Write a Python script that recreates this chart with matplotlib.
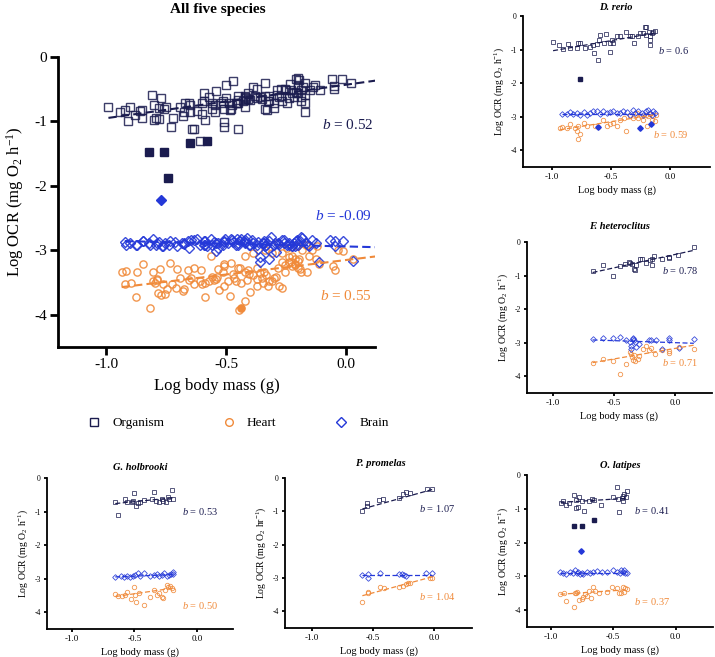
import numpy as np
import matplotlib
matplotlib.use("Agg")
import matplotlib.pyplot as plt
from matplotlib.lines import Line2D

plt.rcParams['font.family'] = ['Liberation Serif', 'DejaVu Serif']
plt.rcParams['mathtext.fontset'] = 'custom'
plt.rcParams['mathtext.rm'] = 'Liberation Serif'
plt.rcParams['mathtext.it'] = 'Liberation Serif:italic'
plt.rcParams['axes.unicode_minus'] = False

# ---------------- data ----------------
# D. rerio
dr_org_x = [-0.99, -0.94, -0.91, -0.86, -0.85, -0.79, -0.78, -0.76, -0.72, -0.68, -0.65, -0.64, -0.62, -0.61,
            -0.60, -0.59, -0.56, -0.54, -0.51, -0.51, -0.49, -0.48, -0.45, -0.42, -0.37, -0.34, -0.32, -0.30,
            -0.27, -0.25, -0.23, -0.21, -0.20, -0.18, -0.17, -0.17, -0.15, -0.14, -0.13, -0.17, -0.20]
dr_org_y = [-0.77, -0.85, -0.99, -0.84, -0.94, -0.94, -0.79, -0.81, -0.94, -0.91, -0.86, -1.11, -0.84, -1.31,
            -0.71, -0.56, -0.81, -0.53, -0.81, -1.08, -0.71, -0.81, -0.61, -0.61, -0.49, -0.61, -0.61, -0.79,
            -0.61, -0.51, -0.51, -0.34, -0.32, -0.47, -0.71, -0.86, -0.51, -0.47, -0.44, -0.59, -0.56]
dr_brain_x = [-0.915, -0.873, -0.845, -0.817, -0.789, -0.761, -0.732, -0.704, -0.676, -0.648, -0.620, -0.592,
              -0.563, -0.535, -0.507, -0.479, -0.451, -0.423, -0.394, -0.366, -0.338, -0.315, -0.296, -0.268,
              -0.239, -0.225, -0.203, -0.183, -0.169, -0.155, -0.141, -0.127]
dr_brain_y = [-2.92, -2.91, -2.86, -2.91, -2.89, -2.94, -2.86, -2.94, -2.89, -2.84, -2.82, -2.92,
              -2.82, -2.89, -2.87, -2.82, -2.89, -2.89, -2.84, -2.87, -2.94, -2.79, -2.89, -2.84,
              -2.89, -2.94, -2.84, -2.81, -2.89, -2.94, -2.84, -2.89]
dr_heart_x = [-0.935, -0.915, -0.873, -0.845, -0.803, -0.789, -0.775, -0.783, -0.761, -0.732, -0.704, -0.634,
              -0.606, -0.563, -0.535, -0.507, -0.479, -0.451, -0.423, -0.389, -0.372, -0.338, -0.310, -0.282,
              -0.268, -0.248, -0.225, -0.203, -0.192, -0.183, -0.169, -0.155, -0.141, -0.127, -0.121]
dr_heart_y = [-3.34, -3.32, -3.34, -3.21, -3.34, -3.44, -3.29, -3.66, -3.53, -3.19, -3.29, -3.27,
              -3.31, -3.09, -3.29, -3.21, -3.19, -3.27, -3.09, -3.04, -3.44, -2.99, -3.04, -2.89,
              -3.04, -2.97, -3.09, -2.94, -3.29, -2.99, -2.91, -3.09, -2.99, -3.14, -2.94]
dr_org_fill_x = [-0.76]
dr_org_fill_y = [-1.88]
dr_brain_fill_x = [-0.61, -0.25, -0.16]
dr_brain_fill_y = [-3.32, -3.34, -3.21]

# F. heteroclitus
fh_org_x = [-0.675, -0.59, -0.51, -0.45, -0.41, -0.38, -0.37, -0.35, -0.34, -0.33, -0.32, -0.29, -0.27,
            -0.24, -0.21, -0.19, -0.19, -0.17, -0.11, -0.05, -0.05, 0.02, 0.15]
fh_org_y = [-0.85, -0.68, -1.01, -0.71, -0.65, -0.60, -0.63, -0.65, -0.81, -0.83, -0.68, -0.51, -0.50,
            -0.63, -0.55, -0.51, -0.68, -0.41, -0.51, -0.49, -0.45, -0.40, -0.16]
fh_brain_x = [-0.675, -0.587, -0.507, -0.453, -0.40, -0.368, -0.36, -0.347, -0.341, -0.333, -0.325, -0.293,
              -0.213, -0.20, -0.16, -0.112, -0.048, -0.048, 0.027, 0.152, -0.36, -0.32]
fh_brain_y = [-2.90, -2.86, -2.86, -2.83, -2.91, -2.98, -3.11, -2.88, -2.86, -2.91, -2.98, -3.03,
              -2.93, -2.91, -2.91, -3.18, -2.85, -2.93, -3.16, -2.88, -3.18, -3.13]
fh_heart_x = [-0.675, -0.587, -0.507, -0.448, -0.40, -0.373, -0.36, -0.352, -0.347, -0.333, -0.325, -0.307,
              -0.293, -0.267, -0.24, -0.213, -0.20, -0.165, -0.112, -0.053, -0.048, 0.027, 0.152]
fh_heart_y = [-3.60, -3.50, -3.55, -3.93, -3.65, -3.28, -3.35, -3.43, -3.51, -3.38, -3.56, -3.48,
              -3.41, -3.18, -3.11, -3.23, -3.16, -3.33, -3.21, -3.25, -3.31, -3.13, -3.20]

# G. holbrooki
gh_org_x = [-0.653, -0.632, -0.573, -0.56, -0.52, -0.512, -0.501, -0.485, -0.475, -0.453, -0.421, -0.36,
            -0.339, -0.325, -0.299, -0.28, -0.267, -0.245, -0.227, -0.219, -0.195, -0.187]
gh_org_y = [-0.72, -1.11, -0.62, -0.72, -0.72, -0.69, -0.44, -0.83, -0.74, -0.72, -0.66, -0.62,
            -0.41, -0.69, -0.72, -0.62, -0.69, -0.72, -0.56, -0.62, -0.36, -0.62]
gh_brain_x = [-0.653, -0.608, -0.581, -0.56, -0.533, -0.512, -0.493, -0.475, -0.459, -0.421, -0.373, -0.341,
              -0.32, -0.299, -0.28, -0.261, -0.24, -0.219, -0.208, -0.192, -0.187]
gh_brain_y = [-2.96, -2.92, -2.94, -2.92, -2.96, -2.91, -2.89, -2.84, -2.92, -2.84, -2.92, -2.89,
              -2.86, -2.92, -2.90, -2.84, -2.91, -2.89, -2.86, -2.86, -2.79]
gh_heart_x = [-0.653, -0.635, -0.60, -0.573, -0.56, -0.528, -0.507, -0.493, -0.485, -0.467, -0.421, -0.373,
              -0.341, -0.32, -0.299, -0.28, -0.267, -0.253, -0.24, -0.227, -0.213, -0.20, -0.187]
gh_heart_y = [-3.46, -3.53, -3.53, -3.48, -3.41, -3.61, -3.25, -3.48, -3.71, -3.43, -3.78, -3.55,
              -3.33, -3.48, -3.43, -3.55, -3.58, -3.33, -3.18, -3.25, -3.21, -3.28, -3.33]

# P. promelas
pp_org_x = [-0.587, -0.546, -0.546, -0.45, -0.418, -0.288, -0.255, -0.234, -0.201, -0.06, -0.016]
pp_org_y = [-0.98, -0.85, -0.75, -0.66, -0.64, -0.59, -0.49, -0.42, -0.44, -0.34, -0.34]
pp_brain_x = [-0.587, -0.543, -0.543, -0.443, -0.285, -0.261, -0.247, -0.226, -0.068, -0.014]
pp_brain_y = [-2.92, -2.89, -3.01, -2.86, -2.89, -2.89, -2.92, -2.94, -2.84, -2.86]
pp_heart_x = [-0.587, -0.538, -0.543, -0.443, -0.41, -0.285, -0.253, -0.231, -0.212, -0.198, -0.014, -0.035]
pp_heart_y = [-3.73, -3.41, -3.45, -3.28, -3.30, -3.28, -3.23, -3.18, -3.14, -3.14, -3.01, -2.99]

# O. latipes
ol_org_x = [-0.92, -0.90, -0.88, -0.85, -0.81, -0.80, -0.80, -0.78, -0.77, -0.75, -0.73, -0.69, -0.67,
            -0.65, -0.60, -0.50, -0.47, -0.46, -0.45, -0.43, -0.42, -0.42, -0.41, -0.40, -0.39]
ol_org_y = [-0.83, -0.78, -0.90, -0.83, -0.59, -0.75, -0.98, -0.96, -0.64, -0.78, -1.08, -0.78, -0.72,
            -0.74, -0.88, -0.64, -0.37, -0.72, -1.11, -0.69, -0.78, -0.62, -0.56, -0.66, -0.46]
ol_brain_x = [-0.922, -0.901, -0.874, -0.847, -0.82, -0.806, -0.793, -0.78, -0.766, -0.753, -0.739, -0.712,
              -0.685, -0.659, -0.632, -0.591, -0.551, -0.503, -0.47, -0.449, -0.438, -0.422, -0.411, -0.403, -0.39]
ol_brain_y = [-2.87, -2.89, -2.92, -2.86, -2.89, -2.82, -2.91, -2.87, -2.94, -2.89, -2.92, -2.87,
              -2.89, -2.86, -2.84, -2.86, -2.87, -2.82, -2.87, -2.91, -2.82, -2.87, -2.81, -2.91, -2.89]
ol_heart_x = [-0.922, -0.895, -0.874, -0.815, -0.806, -0.798, -0.788, -0.772, -0.753, -0.745, -0.726, -0.707,
              -0.691, -0.68, -0.659, -0.645, -0.61, -0.551, -0.511, -0.47, -0.457, -0.438, -0.422, -0.411,
              -0.403, -0.39]
ol_heart_y = [-3.53, -3.50, -3.73, -3.90, -3.48, -3.50, -3.46, -3.70, -3.68, -3.60, -3.53, -3.58,
              -3.43, -3.63, -3.31, -3.43, -3.48, -3.46, -3.33, -3.36, -3.48, -3.50, -3.33, -3.46,
              -3.36, -3.38]
ol_org_fill_x = [-0.81, -0.75, -0.65]
ol_org_fill_y = [-1.50, -1.50, -1.34]
ol_brain_fill_x = [-0.76]
ol_brain_fill_y = [-2.24]

# All species outliers (filled)
all_org_fill_x = [-0.82, -0.76, -0.74, -0.65, -0.58]
all_org_fill_y = [-1.48, -1.48, -1.88, -1.34, -1.31]
all_brain_fill_x = [-0.77]
all_brain_fill_y = [-2.22]
all_heart_fill_x = [-0.44]
all_heart_fill_y = [-3.89]

# fitted lines: (intercept at x=0, slope) and shown b labels
all_fit = {'org': (-0.43, 0.52), 'brain': (-2.94, -0.09), 'heart': (-3.15, 0.45)}
all_b = {'org': '0.52', 'brain': '-0.09', 'heart': '0.55'}
dr_fit = {'org': (-0.43, 0.61), 'brain': (-2.91, 0.0), 'heart': (-2.87, 0.56)}
dr_b = {'org': '0.6', 'heart': '0.59'}
fh_fit = {'org': (-0.37, 0.80), 'brain': (-3.00, -0.12), 'heart': (-3.17, 0.63)}
fh_b = {'org': '0.78', 'heart': '0.71'}
gh_fit = {'org': (-0.52, 0.37), 'brain': (-2.85, 0.15), 'heart': (-3.18, 0.54)}
gh_b = {'org': '0.53', 'heart': '0.50'}
pp_fit = {'org': (-0.33, 1.02), 'brain': (-2.90, 0.0), 'heart': (-2.95, 0.99)}
pp_b = {'org': '1.07', 'heart': '1.04'}
ol_fit = {'org': (-0.60, 0.23), 'brain': (-2.89, 0.0), 'heart': (-3.30, 0.25)}
ol_b = {'org': '0.41', 'heart': '0.37'}

species_names = ['D. rerio', 'F. heteroclitus', 'G. holbrooki', 'P. promelas', 'O. latipes']
legend_labels = ['Organism', 'Heart', 'Brain']

# ---------------- styling ----------------
C_ORG = '#1b1c4f'
C_HEART = '#f08a3a'
C_BRAIN = '#2438d8'
W, H = 715, 657

fig = plt.figure(figsize=(W / 100, H / 100), dpi=100)


def add_axes_px(left, right, top, bottom):
    return fig.add_axes([left / W, 1 - bottom / H, (right - left) / W, (bottom - top) / H])


def style_axes(ax, xlim, lw, ticklen, xfs, yfs):
    ax.set_xlim(*xlim)
    ax.set_ylim(-4.5, 0)
    for s in ['top', 'right']:
        ax.spines[s].set_visible(False)
    for s in ['left', 'bottom']:
        ax.spines[s].set_linewidth(lw)
    ax.set_xticks([-1.0, -0.5, 0.0])
    ax.set_xticklabels(['-1.0', '-0.5', '0.0'], fontsize=xfs)
    ax.set_yticks([0, -1, -2, -3, -4])
    ax.set_yticklabels(['0', '-1', '-2', '-3', '-4'], fontsize=yfs)
    ax.tick_params(direction='out', length=ticklen, width=lw, pad=2)


def fit_line(ax, xs, fit, color, lw):
    x0, x1 = min(xs), max(xs)
    xx = np.array([x0, x1])
    ax.plot(xx, fit[0] + fit[1] * xx, ls=(0, (4, 2)), color=color, lw=lw, zorder=5)


def draw_species(ax, ox, oy, bx, by, hx, hy, fit, ms, mew, lw):
    ax.plot(hx, hy, 'o', ms=ms, mfc='none', mec=C_HEART, mew=mew, alpha=0.9)
    ax.plot(bx, by, 'D', ms=ms * 0.9, mfc='none', mec=C_BRAIN, mew=mew, alpha=0.9)
    ax.plot(ox, oy, 's', ms=ms, mfc='none', mec=C_ORG, mew=mew, alpha=0.85)
    fit_line(ax, ox, fit['org'], C_ORG, lw)
    fit_line(ax, bx, fit['brain'], C_BRAIN, lw)
    fit_line(ax, hx, fit['heart'], C_HEART, lw)


# ---------------- main panel ----------------
ax = add_axes_px(58, 375, 57, 347)
all_org_x = dr_org_x + fh_org_x + gh_org_x + pp_org_x + ol_org_x
all_org_y = dr_org_y + fh_org_y + gh_org_y + pp_org_y + ol_org_y
all_brain_x = dr_brain_x + fh_brain_x + gh_brain_x + pp_brain_x + ol_brain_x
all_brain_y = dr_brain_y + fh_brain_y + gh_brain_y + pp_brain_y + ol_brain_y
all_heart_x = dr_heart_x + fh_heart_x + gh_heart_x + pp_heart_x + ol_heart_x
all_heart_y = dr_heart_y + fh_heart_y + gh_heart_y + pp_heart_y + ol_heart_y
draw_species(ax, all_org_x, all_org_y, all_brain_x, all_brain_y, all_heart_x, all_heart_y,
             all_fit, ms=5.2, mew=1.0, lw=1.5)
ax.plot(all_org_fill_x, all_org_fill_y, 's', ms=5.2, color=C_ORG)
ax.plot(all_brain_fill_x, all_brain_fill_y, 'D', ms=4.6, color=C_BRAIN)
ax.plot(all_heart_fill_x, all_heart_fill_y, 'o', ms=5.2, color=C_HEART)
style_axes(ax, (-1.2, 0.12), 2.0, 6, 11, 11)
ax.set_xlabel('Log body mass (g)', fontsize=12, labelpad=5)
ax.set_ylabel('Log OCR (mg O$_2$ h$^{-1}$)', fontsize=12, labelpad=6)
ax.text(-0.10, -1.05, '$b$ = ' + all_b['org'], color=C_ORG, fontsize=11, va='center', clip_on=False)
ax.text(-0.13, -2.46, '$b$ = ' + all_b['brain'], color=C_BRAIN, fontsize=11, va='center', clip_on=False)
ax.text(-0.11, -3.71, '$b$ = ' + all_b['heart'], color=C_HEART, fontsize=11, va='center', clip_on=False)
fig.text(218 / W, 1 - 9 / H, 'All five species', ha='center', va='center', fontsize=11, fontweight='bold')

# legend
handles = [Line2D([], [], ls='none', marker='s', ms=5.5, mfc='none', mec=C_ORG, mew=1.0),
           Line2D([], [], ls='none', marker='o', ms=5.5, mfc='none', mec=C_HEART, mew=1.0),
           Line2D([], [], ls='none', marker='D', ms=5, mfc='none', mec=C_BRAIN, mew=1.0)]
fig.legend(handles, legend_labels, loc='center left', bbox_to_anchor=(76 / W, 1 - 423 / H), ncol=3,
           frameon=False, fontsize=9.5, handlelength=1.0, handletextpad=0.86, columnspacing=4.4)

# ---------------- species panels ----------------
panels = [
    ('D. rerio', (dr_org_x, dr_org_y, dr_brain_x, dr_brain_y, dr_heart_x, dr_heart_y), dr_fit, dr_b,
     (523, 710, 16, 167), (-1.245, 0.34), (616, 7), 'h', ((-0.10, -1.03), (-0.14, -3.53))),
    ('F. heteroclitus', (fh_org_x, fh_org_y, fh_brain_x, fh_brain_y, fh_heart_x, fh_heart_y), fh_fit, fh_b,
     (527, 712, 242, 393), (-1.21, 0.30), (619, 227), 'h', ((-0.11, -0.86), (-0.11, -3.58))),
    ('G. holbrooki', (gh_org_x, gh_org_y, gh_brain_x, gh_brain_y, gh_heart_x, gh_heart_y), gh_fit, gh_b,
     (47, 233, 478, 629), (-1.20, 0.29), (140, 467), 'h', ((-0.12, -1.00), (-0.12, -3.79))),
    ('P. promelas', (pp_org_x, pp_org_y, pp_brain_x, pp_brain_y, pp_heart_x, pp_heart_y), pp_fit, pp_b,
     (285, 472, 478, 628), (-1.22, 0.31), (381, 463), 'hr', ((-0.12, -0.92), (-0.12, -3.55))),
    ('O. latipes', (ol_org_x, ol_org_y, ol_brain_x, ol_brain_y, ol_heart_x, ol_heart_y), ol_fit, ol_b,
     (527, 713, 475, 627), (-1.19, 0.30), (620, 465), 'h', ((-0.33, -1.06), (-0.33, -3.75))),
]

for name, d, fit, bl, box, xlim, tpos, unit, bpos in panels:
    sax = add_axes_px(*box)
    draw_species(sax, *d, fit, ms=3.2, mew=0.6, lw=0.9)
    if name == 'D. rerio':
        sax.plot(dr_org_fill_x, dr_org_fill_y, 's', ms=3.2, color=C_ORG)
        sax.plot(dr_brain_fill_x, dr_brain_fill_y, 'D', ms=2.8, color=C_BRAIN)
    if name == 'O. latipes':
        sax.plot(ol_org_fill_x, ol_org_fill_y, 's', ms=3.2, color=C_ORG)
        sax.plot(ol_brain_fill_x, ol_brain_fill_y, 'D', ms=2.8, color=C_BRAIN)
    style_axes(sax, xlim, 1.3, 2.5, 6.5, 5.5)
    sax.set_xlabel('Log body mass (g)', fontsize=7.5, labelpad=3)
    sax.set_ylabel('Log OCR (mg O$_2$ ' + unit + '$^{-1}$)', fontsize=7, labelpad=3)
    sax.text(bpos[0][0], bpos[0][1], '$b$ = ' + bl['org'], color=C_ORG, fontsize=7.5, va='center')
    sax.text(bpos[1][0], bpos[1][1], '$b$ = ' + bl['heart'], color=C_HEART, fontsize=7.5, va='center')
    fig.text(tpos[0] / W, 1 - tpos[1] / H, name, ha='center', va='center', fontsize=7.5,
             fontweight='bold', fontstyle='italic')

fig.savefig('out.png', dpi=100)
